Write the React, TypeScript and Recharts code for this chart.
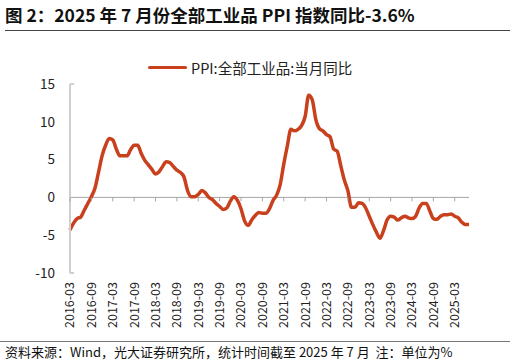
import React from 'react';
import { LineChart, Line, XAxis, YAxis, ReferenceLine, Legend } from 'recharts';

// PPI:全部工业品:当月同比, monthly, 2016-03 .. 2025-07
const ppi2016 = [-4.3, -3.4, -2.8, -2.6, -1.7, -0.8, 0.1, 1.2, 3.3, 5.5]; // from Mar
const ppi2017 = [6.9, 7.8, 7.6, 6.4, 5.5, 5.5, 5.5, 6.3, 6.9, 6.9, 5.8, 4.9];
const ppi2018 = [4.3, 3.7, 3.1, 3.4, 4.1, 4.7, 4.6, 4.1, 3.6, 3.3, 2.7, 0.9];
const ppi2019 = [0.1, 0.1, 0.4, 0.9, 0.6, 0.0, -0.3, -0.8, -1.2, -1.6, -1.4, -0.5];
const ppi2020 = [0.1, -0.4, -1.5, -3.1, -3.7, -3.0, -2.4, -2.0, -2.1, -2.1, -1.5, -0.4];
const ppi2021 = [0.3, 1.7, 4.4, 6.8, 9.0, 8.8, 9.0, 9.5, 10.7, 13.5, 12.9, 10.3];
const ppi2022 = [9.1, 8.8, 8.3, 8.0, 6.4, 6.1, 4.2, 2.3, 0.9, -1.3, -1.3, -0.7];
const ppi2023 = [-0.8, -1.4, -2.5, -3.6, -4.6, -5.4, -4.4, -3.0, -2.5, -2.6, -3.0, -2.7];
const ppi2024 = [-2.5, -2.7, -2.8, -2.5, -1.4, -0.8, -0.8, -1.8, -2.8, -2.9, -2.5, -2.3];
const ppi2025 = [-2.3, -2.2, -2.5, -2.7, -3.3, -3.6, -3.6];

const xTicks = [
  '2016-03', '2016-09', '2017-03', '2017-09', '2018-03', '2018-09', '2019-03',
  '2019-09', '2020-03', '2020-09', '2021-03', '2021-09', '2022-03', '2022-09',
  '2023-03', '2023-09', '2024-03', '2024-09', '2025-03',
];
const yTicks = [-10, -5, 0, 5, 10, 15];

const SERIES = 'PPI:全部工业品:当月同比';
const LINE_COLOR = '#C8401C';
const AXIS_COLOR = '#cfcfcf';
const FONT = '"Noto Sans CJK SC", "Noto Sans", sans-serif';

const years: [number, number[], number][] = [
  [2016, ppi2016, 3],
  [2017, ppi2017, 1],
  [2018, ppi2018, 1],
  [2019, ppi2019, 1],
  [2020, ppi2020, 1],
  [2021, ppi2021, 1],
  [2022, ppi2022, 1],
  [2023, ppi2023, 1],
  [2024, ppi2024, 1],
  [2025, ppi2025, 1],
];

const data = years.flatMap(([yr, vals, startMonth]) =>
  vals.map((v, i) => ({
    month: `${yr}-${String(startMonth + i).padStart(2, '0')}`,
    [SERIES]: v,
  }))
);

// plot geometry
const TOP = 84;
const LEFT = 70;
const PLOT_H = 189;
const Y_MIN = -10;
const Y_MAX = 15;
const zeroY = TOP + (Y_MAX / (Y_MAX - Y_MIN)) * PLOT_H;

const XTick = ({ x, y, payload }: any) => (
  <g>
    <line x1={x} x2={x} y1={zeroY} y2={zeroY + 4} stroke="#a6a6a6" strokeWidth={1} />
    <text
      x={x}
      y={y}
      dy="0.35em"
      transform={`rotate(-90, ${x}, ${y})`}
      textAnchor="end"
      fontSize={12.5}
      fill="#222"
      fontFamily={FONT}
    >
      {payload.value}
    </text>
  </g>
);

// only the end ticks of the value axis show a small inward mark
const YTick = ({ x, y, payload }: any) => (
  <g>
    {(payload.value === Y_MAX || payload.value === Y_MIN) && (
      <line x1={LEFT} x2={LEFT + 4} y1={y} y2={y} stroke={AXIS_COLOR} strokeWidth={2} />
    )}
    <text x={x} y={y} dy="0.35em" textAnchor="end" fontSize={13.5} fill="#222" fontFamily={FONT}>
      {payload.value}
    </text>
  </g>
);

const LegendContent = () => (
  <div style={{ display: 'flex', alignItems: 'center', fontFamily: FONT, paddingLeft: 148 }}>
    <span style={{ display: 'inline-block', width: 39, height: 3.5, background: LINE_COLOR, borderRadius: 2, marginRight: 4 }} />
    <span style={{ fontSize: 14.5, color: '#222' }}>{SERIES}</span>
  </div>
);

export default function App() {
  return (
    <div style={{ position: 'relative', width: 516, height: 362, background: '#fff', fontFamily: FONT }}>
      <style>{'body{margin:0}'}</style>
      <div style={{ position: 'absolute', left: 5, top: 2, fontSize: 17.5, fontWeight: 700, color: '#111', whiteSpace: 'nowrap' }}>
        图 2：2025 年 7 月份全部工业品 PPI 指数同比-3.6%
      </div>
      <div style={{ position: 'absolute', left: 5, top: 30, width: 505, height: 1, background: '#444' }} />
      <LineChart
        width={516}
        height={362}
        data={data}
        margin={{ top: TOP, right: 47, left: LEFT - 40, bottom: 0 }}
        style={{ position: 'absolute', left: 0, top: 0 }}
      >
        <Legend
          verticalAlign="middle"
          align="center"
          content={<LegendContent />}
          wrapperStyle={{ top: 57, left: 0, width: 516, height: 22 }}
        />
        <ReferenceLine y={0} stroke="#a6a6a6" strokeWidth={1} />
        <XAxis
          dataKey="month"
          ticks={xTicks}
          interval={0}
          axisLine={false}
          tickLine={false}
          height={362 - TOP - PLOT_H}
          tick={<XTick />}
          tickMargin={0}
          tickSize={9}
        />
        <YAxis
          domain={[Y_MIN, Y_MAX]}
          ticks={yTicks}
          width={40}
          axisLine={{ stroke: AXIS_COLOR, strokeWidth: 2 }}
          tickLine={false}
          tickSize={0}
          tickMargin={15}
          tick={<YTick />}
        />
        <Line
          type="monotone"
          dataKey={SERIES}
          stroke={LINE_COLOR}
          strokeWidth={3.5}
          dot={false}
          isAnimationActive={false}
        />
      </LineChart>
      <div style={{ position: 'absolute', left: 0, top: 341, width: 510, height: 1, background: '#777' }} />
      <div style={{ position: 'absolute', left: 5, top: 342, fontSize: 13, color: '#111', whiteSpace: 'nowrap' }}>
        资料来源：Wind，光大证券研究所，统计时间截至 2025 年 7 月&nbsp;&nbsp;注：单位为%
      </div>
    </div>
  );
}
